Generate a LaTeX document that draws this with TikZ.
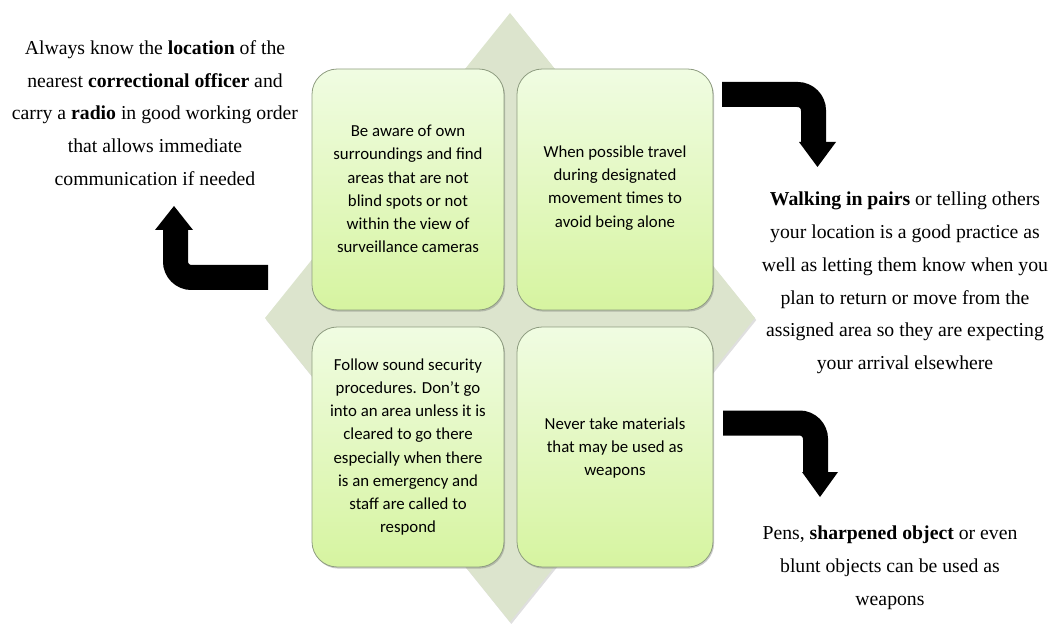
\documentclass[tikz,border=0pt]{standalone}
\usepackage{fontspec}
\setmainfont{Liberation Serif}
\newfontfamily\boxfont{Carlito}
\usetikzlibrary{shadows}
\definecolor{diafill}{HTML}{DCE4CD}
\definecolor{boxtop}{HTML}{F0FCE2}
\definecolor{boxbot}{HTML}{D6F4A0}
\definecolor{boxline}{HTML}{8E9C80}
\tikzset{
  gbox/.style={draw=boxline, line width=0.6pt, rounded corners=19pt,
    top color=boxtop, bottom color=boxbot,
    drop shadow={shadow xshift=0.8pt, shadow yshift=-1.2pt, opacity=0.35, fill=black!60}},
  boxtext/.style={font=\boxfont\fontsize{12.6pt}{17.4pt}\selectfont, align=center, text=black},
  outtext/.style={font=\fontsize{14.8pt}{24.6pt}\selectfont, align=center, text=black},
  bentbar/.style={line width=18.75pt, rounded corners=12pt, draw=black, line cap=butt},
  headtri/.style={fill=black}
}
\begin{document}
\begin{tikzpicture}[x=0.75pt,y=-0.75pt]
\useasboundingbox (0,0) rectangle (1054,624);
% diamond
\fill[diafill, drop shadow={shadow xshift=1pt, shadow yshift=-1.5pt, opacity=0.25}] (510,13) -- (755,318) -- (510,622) -- (265,318) -- cycle;
% boxes
\path[gbox] (312,69) rectangle (504,310);
\path[gbox] (517,69) rectangle (713,310);
\path[gbox] (312,327) rectangle (504,567);
\path[gbox] (517,327) rectangle (713,567);
\node[boxtext] (tl) at (408,189) {Be aware of own\\surroundings and find\\areas that are not\\blind spots or not\\within the view of\\surveillance cameras};
\node[boxtext] (tr) at (615,188) {When possible travel\\during designated\\movement times to\\avoid being alone};
\node[boxtext] (bl) at (408,447) {Follow sound security\\procedures. Don’t go\\into an area unless it is\\cleared to go there\\especially when there\\is an emergency and\\staff are called to\\respond};
\node[boxtext] (br) at (615,448) {Never take materials\\that may be used as\\weapons};
% outside texts
\node[outtext] (lt) at (155,113) {Always know the \textbf{location} of the\\nearest \textbf{correctional officer} and\\carry a \textbf{radio} in good working order\\that allows immediate\\communication if needed};
\node[outtext] (rt) at (905,283) {\textbf{Walking in pairs} or telling others\\your location is a good practice as\\well as letting them know when you\\plan to return or move from the\\assigned area so they are expecting\\your arrival elsewhere};
\node[outtext] (bt) at (890,568) {Pens, \textbf{sharpened object} or even\\blunt objects can be used as\\weapons};
% arrows
\coordinate (a1s) at (722,94.5);
\coordinate (a1c) at (813.5,94.5);
\coordinate (a1e) at (813.5,143);
\draw[bentbar] (a1s) -- (a1c) -- (a1e);
\fill[headtri] (799,142) -- (836,142) -- (817.5,167) -- cycle;
\coordinate (a2s) at (268,277.5);
\coordinate (a2c) at (175.5,277.5);
\coordinate (a2e) at (175.5,229);
\draw[bentbar] (a2s) -- (a2c) -- (a2e);
\fill[headtri] (155,230) -- (193,230) -- (174,206) -- cycle;
\coordinate (a3s) at (723,423);
\coordinate (a3c) at (815.5,423);
\coordinate (a3e) at (815.5,473);
\draw[bentbar] (a3s) -- (a3c) -- (a3e);
\fill[headtri] (802,472) -- (838,472) -- (820,497) -- cycle;
\end{tikzpicture}
\end{document}
